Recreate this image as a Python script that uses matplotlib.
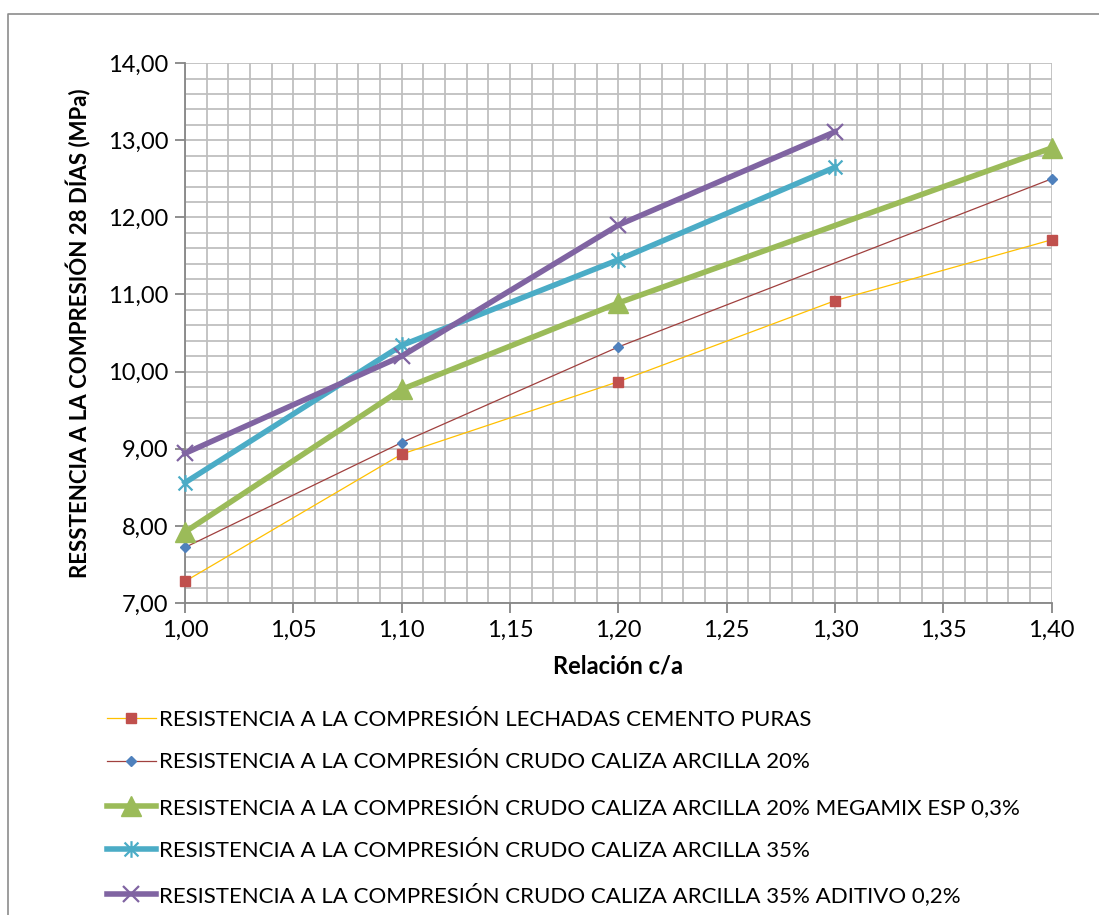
import matplotlib
matplotlib.use("Agg")
import matplotlib.pyplot as plt
from matplotlib.path import Path
from matplotlib.lines import Line2D
from matplotlib.ticker import MultipleLocator, FuncFormatter
import numpy as np

plt.rcParams["font.family"] = ["Lato", "DejaVu Sans"]

x_all = [1.00, 1.10, 1.20, 1.30, 1.40]
x_skip = [1.00, 1.10, 1.20, 1.40]
x_short = [1.00, 1.10, 1.20, 1.30]

lechadas = [7.28, 8.93, 9.87, 10.92, 11.71]
arcilla20 = [7.72, 9.08, 10.32, 12.50]
arcilla20_megamix = [7.92, 9.77, 10.89, 12.90]
arcilla35 = [8.56, 10.34, 11.45, 12.65]
arcilla35_aditivo = [8.94, 10.20, 11.90, 13.11]

labels = [
    "RESISTENCIA A LA COMPRESIÓN LECHADAS CEMENTO PURAS",
    "RESISTENCIA A LA COMPRESIÓN CRUDO CALIZA ARCILLA 20%",
    "RESISTENCIA A LA COMPRESIÓN CRUDO CALIZA ARCILLA 20% MEGAMIX ESP 0,3%",
    "RESISTENCIA A LA COMPRESIÓN CRUDO CALIZA ARCILLA 35%",
    "RESISTENCIA A LA COMPRESIÓN CRUDO CALIZA ARCILLA 35% ADITIVO 0,2%",
]

# asterisk marker (x with vertical bar) like Excel's star
star = Path(
    [(-1, -1), (1, 1), (-1, 1), (1, -1), (0, -1.2), (0, 1.2)],
    [Path.MOVETO, Path.LINETO, Path.MOVETO, Path.LINETO, Path.MOVETO, Path.LINETO],
)

fig = plt.figure(figsize=(10.99, 9.15), dpi=100)
# chart area border (only top and left edges are visible in the cropped original)
fig.add_artist(Line2D([0.0075, 0.0075, 1.0], [0.0, 0.985, 0.985], transform=fig.transFigure,
                      color="#8c8c8c", linewidth=1.2))
ax = fig.add_axes([0.1683, 0.341, 0.7887, 0.590])

ax.plot(x_all, lechadas, color="#FFC000", linewidth=0.9, marker="s", markersize=6.5,
        markerfacecolor="#C0504D", markeredgecolor="#C0504D", label=labels[0],
        zorder=3, clip_on=False)
ax.plot(x_skip, arcilla20, color="#A0403E", linewidth=0.9, marker="D", markersize=5,
        markerfacecolor="#4F81BD", markeredgecolor="#4F81BD", label=labels[1],
        zorder=3, clip_on=False)
ax.plot(x_skip, arcilla20_megamix, color="#9BBB59", linewidth=4, marker="^", markersize=14,
        markerfacecolor="#9BBB59", markeredgecolor="#9BBB59", label=labels[2],
        zorder=3, clip_on=False)
ax.plot(x_short, arcilla35, color="#4BACC6", linewidth=4, marker=star, markersize=12,
        markeredgewidth=1.6, markeredgecolor="#4BACC6", label=labels[3],
        zorder=3, clip_on=False)
ax.plot(x_short, arcilla35_aditivo, color="#8064A2", linewidth=4, marker="x", markersize=12,
        markeredgewidth=1.6, markeredgecolor="#8064A2", label=labels[4],
        zorder=3, clip_on=False)

ax.set_xlim(1.0, 1.4)
ax.set_ylim(7.0, 14.0)
ax.xaxis.set_major_locator(MultipleLocator(0.05))
ax.xaxis.set_minor_locator(MultipleLocator(0.01))
ax.yaxis.set_major_locator(MultipleLocator(1.0))
ax.yaxis.set_minor_locator(MultipleLocator(0.2))
comma = FuncFormatter(lambda v, p: f"{v:.2f}".replace(".", ","))
ax.xaxis.set_major_formatter(comma)
ax.yaxis.set_major_formatter(comma)

ax.grid(which="both", color="#BFBFBF", linewidth=1.3, zorder=0)
ax.set_axisbelow(True)
for side in ["top", "right"]:
    ax.spines[side].set_visible(False)
for side in ["left", "bottom"]:
    ax.spines[side].set_color("#868686")
    ax.spines[side].set_linewidth(1.3)
ax.tick_params(which="major", direction="out", length=7, width=1.3, color="#868686",
               labelsize=17, pad=5)
ax.tick_params(which="minor", length=0)

ax.set_xlabel("Relación c/a", fontsize=17, fontweight="bold", labelpad=10)
ax.set_ylabel("RESSTENCIA A LA COMPRESIÓN 28 DÍAS (MPa)", fontsize=16, fontweight="bold",
              labelpad=12)

fig.legend(loc="upper left", bbox_to_anchor=(0.089, 0.234), frameon=False, fontsize=16,
           handlelength=2.2, handletextpad=0.15, labelspacing=1.02, borderaxespad=0)

fig.savefig("out.png", dpi=100)
plt.close(fig)
